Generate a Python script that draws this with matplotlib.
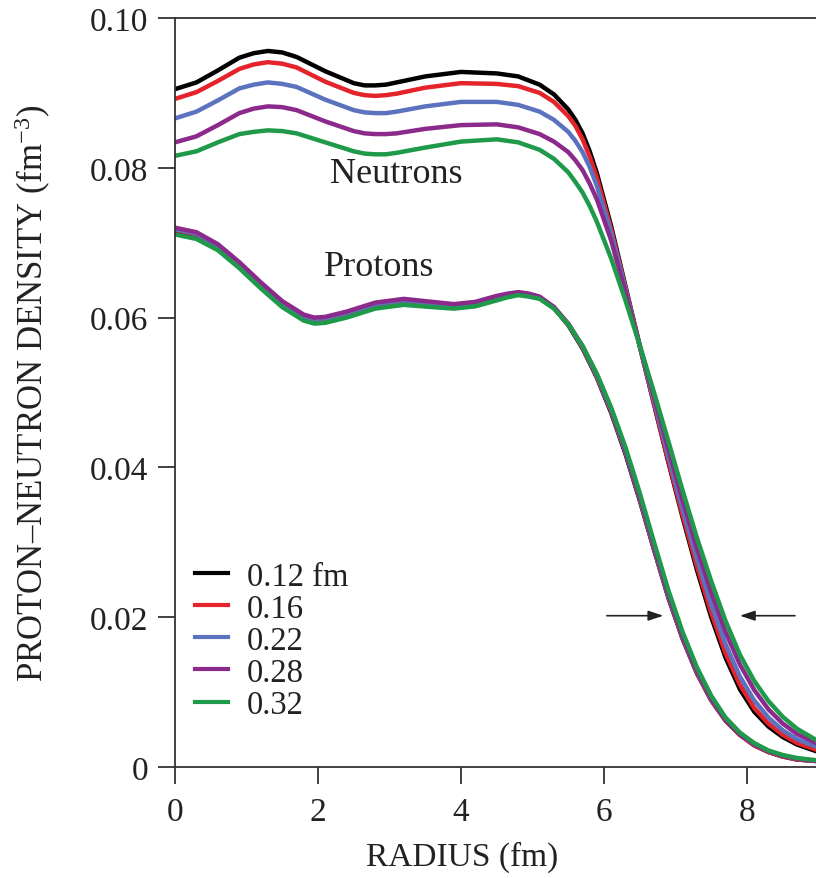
import matplotlib
matplotlib.use("Agg")
import matplotlib.pyplot as plt

plt.rcParams.update({
    "font.family": ["Liberation Serif", "DejaVu Serif"],
    "mathtext.fontset": "custom",
    "mathtext.rm": "Liberation Serif",
    "mathtext.it": "Liberation Serif:italic",
    "font.size": 24,
})

# diffuseness values (fm) for the five calculations
labels = ["0.12 fm", "0.16", "0.22", "0.28", "0.32"]
colors = ["#000000", "#E4232B", "#5B73BE", "#8C2A8C", "#1E9A4A"]

# neutron densities
neutron_r = [0.0, 0.3, 0.6, 0.9, 1.1, 1.3, 1.5, 1.7, 2.1, 2.5, 2.65, 2.8, 2.95, 3.1,
             3.5, 4.0, 4.5, 4.8, 5.1, 5.3, 5.5, 5.6, 5.7, 5.8, 5.9, 6.1, 6.3, 6.5,
             6.7, 6.9, 7.1, 7.3, 7.5, 7.7, 7.9, 8.1, 8.3, 8.5, 8.7, 8.97]
neutron_012 = [0.0905, 0.0914, 0.0930, 0.0947, 0.0953, 0.0956, 0.0954, 0.0948, 0.0929,
               0.0913, 0.0910, 0.0910, 0.0911, 0.0914, 0.0922, 0.0928, 0.0926, 0.0922,
               0.0911, 0.0898, 0.0878, 0.0864, 0.0846, 0.0822, 0.0793, 0.0722, 0.0642,
               0.0562, 0.0484, 0.0407, 0.0333, 0.0263, 0.0200, 0.0146, 0.0104, 0.0074,
               0.0054, 0.0040, 0.0030, 0.0021]
neutron_016 = [0.0892, 0.0901, 0.0916, 0.0932, 0.0938, 0.0941, 0.0939, 0.0934, 0.0915,
               0.0900, 0.0897, 0.0896, 0.0897, 0.0899, 0.0907, 0.0913, 0.0912, 0.0909,
               0.0900, 0.0888, 0.0869, 0.0856, 0.0838, 0.0815, 0.0787, 0.0718, 0.0640,
               0.0562, 0.0485, 0.0409, 0.0336, 0.0268, 0.0206, 0.0152, 0.0110, 0.0079,
               0.0058, 0.0043, 0.0032, 0.0023]
neutron_022 = [0.0866, 0.0875, 0.0890, 0.0906, 0.0911, 0.0914, 0.0912, 0.0908, 0.0891,
               0.0877, 0.0874, 0.0873, 0.0873, 0.0875, 0.0882, 0.0888, 0.0888, 0.0884,
               0.0875, 0.0864, 0.0848, 0.0836, 0.0821, 0.0801, 0.0776, 0.0713, 0.0638,
               0.0562, 0.0489, 0.0415, 0.0344, 0.0278, 0.0217, 0.0164, 0.0121, 0.0089,
               0.0066, 0.0049, 0.0037, 0.0027]
neutron_028 = [0.0834, 0.0842, 0.0857, 0.0873, 0.0879, 0.0882, 0.0881, 0.0877, 0.0862,
               0.0849, 0.0846, 0.0845, 0.0845, 0.0846, 0.0852, 0.0857, 0.0858, 0.0854,
               0.0845, 0.0835, 0.0821, 0.0810, 0.0797, 0.0779, 0.0758, 0.0703, 0.0634,
               0.0563, 0.0494, 0.0424, 0.0356, 0.0292, 0.0233, 0.0180, 0.0137, 0.0103,
               0.0077, 0.0058, 0.0044, 0.0032]
neutron_032 = [0.0816, 0.0822, 0.0834, 0.0845, 0.0848, 0.0850, 0.0849, 0.0846, 0.0834,
               0.0822, 0.0819, 0.0818, 0.0818, 0.0820, 0.0827, 0.0835, 0.0838, 0.0834,
               0.0824, 0.0812, 0.0794, 0.0781, 0.0767, 0.0749, 0.0728, 0.0679, 0.0623,
               0.0563, 0.0500, 0.0435, 0.0369, 0.0306, 0.0248, 0.0195, 0.0150, 0.0115,
               0.0088, 0.0067, 0.0051, 0.0036]

# proton densities
proton_r = [0.0, 0.3, 0.6, 0.9, 1.2, 1.5, 1.8, 1.95, 2.1, 2.4, 2.8, 3.2, 3.6, 3.9, 4.2,
            4.5, 4.65, 4.8, 4.95, 5.1, 5.3, 5.5, 5.7, 5.9, 6.1, 6.3, 6.5, 6.7, 6.9,
            7.1, 7.3, 7.5, 7.7, 7.9, 8.1, 8.3, 8.5, 8.7, 8.97]
proton_012 = [0.0716, 0.0710, 0.0694, 0.0670, 0.0643, 0.0618, 0.0600, 0.0596, 0.0597,
              0.0604, 0.0616, 0.0621, 0.0618, 0.0615, 0.0619, 0.0627, 0.0631, 0.0633,
              0.0631, 0.0627, 0.0613, 0.0590, 0.0559, 0.0520, 0.0473, 0.0418, 0.0356,
              0.0290, 0.0226, 0.0171, 0.0125, 0.0089, 0.0062, 0.0043, 0.0029, 0.0020,
              0.0014, 0.0010, 0.0008]
proton_016 = [0.0717, 0.0711, 0.0695, 0.0671, 0.0644, 0.0619, 0.0601, 0.0597, 0.0598,
              0.0605, 0.0617, 0.0622, 0.0619, 0.0616, 0.0619, 0.0627, 0.0631, 0.0633,
              0.0631, 0.0627, 0.0613, 0.0591, 0.0560, 0.0521, 0.0475, 0.0420, 0.0358,
              0.0291, 0.0227, 0.0172, 0.0126, 0.0089, 0.0062, 0.0043, 0.0029, 0.0020,
              0.0014, 0.0010, 0.0008]
proton_022 = [0.0718, 0.0712, 0.0696, 0.0672, 0.0645, 0.0620, 0.0602, 0.0598, 0.0599,
              0.0606, 0.0618, 0.0623, 0.0619, 0.0616, 0.0620, 0.0628, 0.0631, 0.0633,
              0.0631, 0.0627, 0.0614, 0.0591, 0.0561, 0.0522, 0.0476, 0.0421, 0.0359,
              0.0292, 0.0228, 0.0173, 0.0127, 0.0090, 0.0063, 0.0044, 0.0030, 0.0021,
              0.0015, 0.0011, 0.0008]
proton_028 = [0.0720, 0.0714, 0.0698, 0.0674, 0.0647, 0.0622, 0.0604, 0.0600, 0.0601,
              0.0608, 0.0620, 0.0625, 0.0621, 0.0618, 0.0621, 0.0629, 0.0632, 0.0634,
              0.0632, 0.0628, 0.0614, 0.0592, 0.0562, 0.0524, 0.0478, 0.0423, 0.0361,
              0.0294, 0.0230, 0.0174, 0.0128, 0.0091, 0.0063, 0.0044, 0.0030, 0.0021,
              0.0015, 0.0011, 0.0008]
proton_032 = [0.0711, 0.0705, 0.0690, 0.0666, 0.0639, 0.0614, 0.0596, 0.0592, 0.0593,
              0.0600, 0.0612, 0.0617, 0.0614, 0.0612, 0.0615, 0.0623, 0.0627, 0.0630,
              0.0628, 0.0625, 0.0612, 0.0591, 0.0562, 0.0525, 0.0480, 0.0427, 0.0366,
              0.0300, 0.0236, 0.0180, 0.0133, 0.0095, 0.0066, 0.0046, 0.0032, 0.0022,
              0.0016, 0.0012, 0.0009]

x_ticks = [0, 2, 4, 6, 8]
y_ticks = [0, 0.02, 0.04, 0.06, 0.08, 0.10]
y_ticklabels = ["0", "0.02", "0.04", "0.06", "0.08", "0.10"]

neutrons = [neutron_012, neutron_016, neutron_022, neutron_028, neutron_032]
protons = [proton_012, proton_016, proton_022, proton_028, proton_032]

fig = plt.figure(figsize=(8.16, 8.79), dpi=100)
ax = fig.add_axes([175 / 816, 111 / 879, 641 / 816, 749 / 879])

lw = 3.2
for dens, c, lab in zip(neutrons, colors, labels):
    ax.plot(neutron_r, dens, color=c, lw=lw, label=lab, solid_joinstyle="round")
for dens, c in zip(protons, colors):
    ax.plot(proton_r, dens, color=c, lw=lw, solid_joinstyle="round")

ax.set_xlim(0, 8.965)
ax.set_ylim(0, 0.10)
ax.set_xticks(x_ticks)
ax.set_xticklabels([str(t) for t in x_ticks])
ax.set_yticks(y_ticks)
ax.set_yticklabels(y_ticklabels)

for side in ["left", "bottom", "top"]:
    ax.spines[side].set_linewidth(1.3)
    ax.spines[side].set_color("#333333")
ax.spines["right"].set_visible(False)
ax.tick_params(direction="out", length=12, width=1.3, color="#333333",
               labelsize=24, pad=7, labelcolor="#222222")
ax.tick_params(axis="x", pad=9)

ax.set_xlabel("RADIUS (fm)", fontsize=24, color="#222222")
ax.xaxis.set_label_coords(0.448, -0.098)
ax.set_ylabel(r"PROTON–NEUTRON DENSITY (fm$^{-3}$)", fontsize=25,
              color="#222222", labelpad=27)

ax.text(3.10, 0.0793, "Neutrons", ha="center", va="center", fontsize=26, color="#222222")
ax.text(2.85, 0.0668, "Protons", ha="center", va="center", fontsize=26, color="#222222")

arrow = dict(arrowstyle="-|>,head_length=0.9,head_width=0.3", lw=1.2,
             color="#222222", shrinkA=0, shrinkB=0, mutation_scale=10)
ax.annotate("", xy=(6.83, 0.0202), xytext=(6.04, 0.0202), arrowprops=arrow)
ax.annotate("", xy=(7.90, 0.0202), xytext=(8.67, 0.0202), arrowprops=arrow)

leg = ax.legend(loc="upper left", bbox_to_anchor=(0.031, 0.275), frameon=False,
                fontsize=23.5, labelspacing=0.05, handlelength=1.0, handletextpad=0.6,
                borderpad=0, borderaxespad=0)
for line in leg.get_lines():
    line.set_linewidth(3)
for t in leg.get_texts():
    t.set_color("#222222")

fig.savefig("out.png", dpi=100)
